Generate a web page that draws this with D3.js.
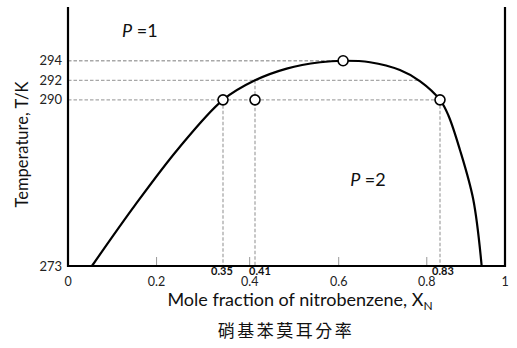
<!DOCTYPE html>
<html lang="en">
<head>
    <meta charset="UTF-8">
    <title>Nitrobenzene phase diagram</title>
    <script src="https://d3js.org/d3.v7.min.js"></script>
    <style>
        body { margin: 0; background: #fff; }
    </style>
</head>
<body>
    <svg width="517" height="348"></svg>

    <script>
        // coexistence curve
        const curveX = [0.054, 0.151, 0.249, 0.35, 0.41, 0.482, 0.558, 0.61, 0.671, 0.739, 0.785, 0.83, 0.852, 0.882, 0.917, 0.939];
        const curveT = [273.0, 279.2, 285.0, 290.0, 292.0, 293.2, 293.85, 294.0, 293.85, 293.05, 291.9, 290.0, 288.4, 284.9, 279.8, 273.0];

        // marked points
        const pointX = [0.35, 0.41, 0.61, 0.83];
        const pointT = [290, 290, 294, 290];

        // guide lines
        const hGuideT = [294, 292, 290];
        const hGuideEnd = [0.61, 0.785, 0.83];
        const vGuideX = [0.35, 0.41, 0.83];
        const vGuideTop = [290, 292, 290];

        const xTicks = [0, 0.2, 0.4, 0.6, 0.8, 1];
        const xTickLabels = ['0', '0.2', '0.4', '0.6', '0.8', '1'];
        const yTicks = [294, 292, 290, 273];

        const svg = d3.select('svg');
        const font = 'Lato, "Open Sans", sans-serif';

        // the drawn axis is not quite even, so pin it at the marked values
        const x = d3.scaleLinear()
            .domain([0, 0.35, 0.41, 0.83, 1])
            .range([68, 223, 255, 440, 505]);
        const y = d3.scaleLinear()
            .domain([273, 299.5])
            .range([266, 7]);

        const guides = svg.append('g')
            .attr('stroke', '#a8a8a8')
            .attr('stroke-width', 1.3)
            .attr('stroke-dasharray', '3.5,2');

        guides.selectAll('.h')
            .data(hGuideT)
            .join('line')
            .attr('x1', x(0))
            .attr('x2', (d, i) => x(hGuideEnd[i]))
            .attr('y1', d => y(d))
            .attr('y2', d => y(d));

        guides.selectAll('.v')
            .data(vGuideX)
            .join('line')
            .attr('x1', d => x(d))
            .attr('x2', d => x(d))
            .attr('y1', (d, i) => y(vGuideTop[i]))
            .attr('y2', y(273));

        // small inner ticks on the x axis
        svg.append('g')
            .attr('stroke', '#999')
            .attr('stroke-width', 1)
            .selectAll('line')
            .data(xTicks.slice(1, -1))
            .join('line')
            .attr('x1', d => x(d))
            .attr('x2', d => x(d))
            .attr('y1', y(273) - 9)
            .attr('y2', y(273));

        const line = d3.line()
            .x(d => x(d[0]))
            .y(d => y(d[1]))
            .curve(d3.curveCatmullRom.alpha(0.5));

        svg.append('path')
            .datum(curveX.map((v, i) => [v, curveT[i]]))
            .attr('d', line)
            .attr('fill', 'none')
            .attr('stroke', '#000')
            .attr('stroke-width', 2.2);

        // frame: left, bottom, right
        svg.append('path')
            .attr('d', `M${x(0)},${y(299.5)}V${y(273)}H${x(1)}V${y(299.5)}`)
            .attr('fill', 'none')
            .attr('stroke', '#000')
            .attr('stroke-width', 2.2);

        svg.append('g')
            .selectAll('circle')
            .data(pointX)
            .join('circle')
            .attr('cx', d => x(d))
            .attr('cy', (d, i) => y(pointT[i]))
            .attr('r', 5)
            .attr('fill', '#fff')
            .attr('stroke', '#000')
            .attr('stroke-width', 1.6);

        // tick labels
        svg.append('g')
            .attr('font-family', font)
            .attr('font-size', 13)
            .attr('fill', '#222')
            .attr('text-anchor', 'end')
            .selectAll('text')
            .data(yTicks)
            .join('text')
            .attr('x', x(0) - 6)
            .attr('y', d => y(d) + 4.5)
            .text(d => d);

        svg.append('g')
            .attr('font-family', font)
            .attr('font-size', 12.5)
            .attr('fill', '#222')
            .attr('text-anchor', 'middle')
            .selectAll('text')
            .data(xTicks)
            .join('text')
            .attr('x', d => x(d))
            .attr('y', 285.5)
            .text((d, i) => xTickLabels[i]);

        // the bold value labels sit a little off their guide lines
        const labelShift = [-1, 5, 3];
        svg.append('g')
            .attr('font-family', font)
            .attr('font-size', 11)
            .attr('font-weight', 'bold')
            .attr('fill', '#111')
            .attr('text-anchor', 'middle')
            .selectAll('text')
            .data(vGuideX)
            .join('text')
            .attr('x', (d, i) => x(d) + labelShift[i])
            .attr('y', 274.5)
            .text(d => d.toFixed(2));

        // axis titles
        svg.append('text')
            .attr('transform', `translate(28,${(y(273) + y(299.5)) / 2 + 8}) rotate(-90)`)
            .attr('text-anchor', 'middle')
            .attr('font-family', font)
            .attr('font-size', 16.5)
            .attr('fill', '#111')
            .text('Temperature, T/K');

        const xt = svg.append('text')
            .attr('x', 300)
            .attr('y', 306)
            .attr('text-anchor', 'middle')
            .attr('font-family', font)
            .attr('font-size', 18)
            .attr('fill', '#111');
        xt.append('tspan').text('Mole fraction of nitrobenzene, X');
        xt.append('tspan').attr('font-size', 12).attr('dy', 4).text('N');

        svg.append('text')
            .attr('x', 286)
            .attr('y', 337)
            .attr('text-anchor', 'middle')
            .attr('font-family', '"Noto Sans CJK TC", "Noto Sans CJK SC", sans-serif')
            .attr('font-size', 17)
            .attr('letter-spacing', 2.5)
            .attr('fill', '#111')
            .text('硝基苯莫耳分率');

        // phase labels
        const phase = svg.append('g')
            .attr('font-family', font)
            .attr('font-size', 18)
            .attr('fill', '#111');
        [[0.122, 296.4, '1'], [0.626, 281.2, '2']].forEach(p => {
            const t = phase.append('text').attr('x', x(p[0])).attr('y', y(p[1]));
            t.append('tspan').attr('font-style', 'italic').text('P');
            t.append('tspan').text(' =' + p[2]);
        });
    </script>
</body>
</html>
